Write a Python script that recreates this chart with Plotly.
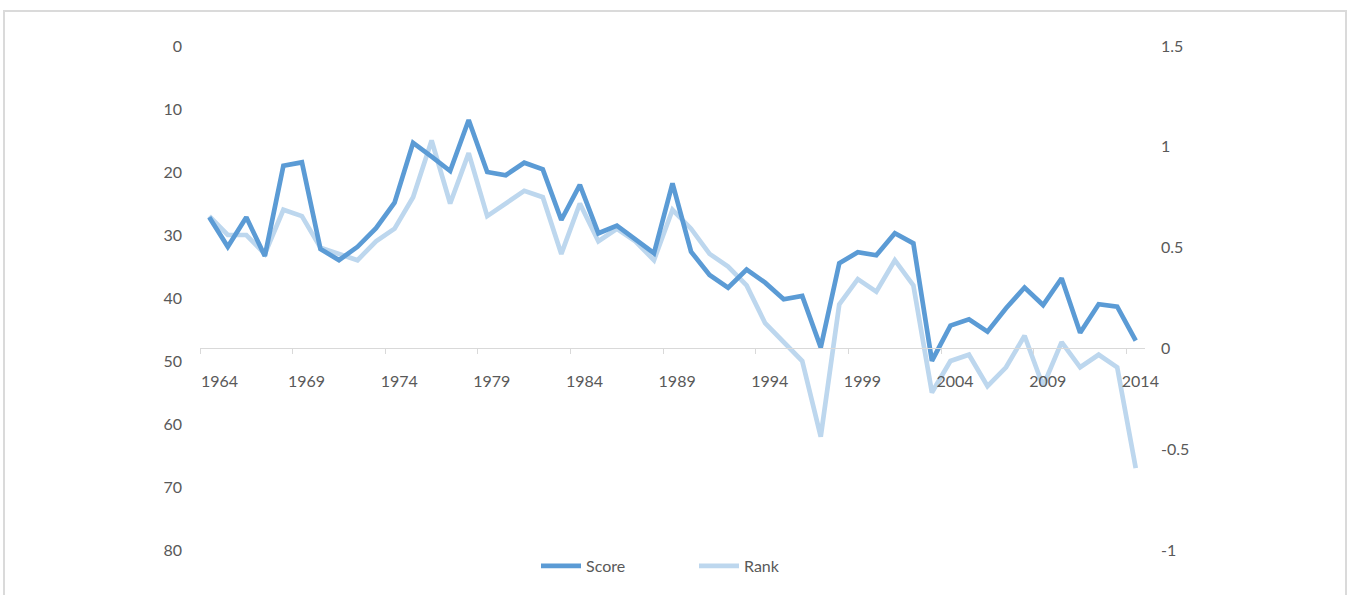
import plotly.graph_objects as go

years = list(range(1964, 2015))
score = [0.650, 0.504, 0.650, 0.458, 0.906, 0.923, 0.493, 0.438, 0.504, 0.596,
         0.723, 1.020, 0.951, 0.880, 1.133, 0.875, 0.859, 0.921, 0.888, 0.637,
         0.811, 0.571, 0.609, 0.538, 0.472, 0.819, 0.480, 0.364, 0.301, 0.391,
         0.326, 0.244, 0.260, 0.005, 0.422, 0.477, 0.462, 0.571, 0.521, -0.062,
         0.113, 0.144, 0.083, 0.199, 0.302, 0.215, 0.348, 0.078, 0.219, 0.207,
         0.038]
rank = [27, 30, 30, 33, 26, 27, 32, 33, 34, 31,
        29, 24, 15, 25, 17, 27, 25, 23, 24, 33,
        25, 31, 29, 31, 34, 26, 29, 33, 35, 38,
        44, 47, 50, 62, 41, 37, 39, 34, 38, 55,
        50, 49, 54, 51, 46, 54, 47, 51, 49, 51,
        67]

label_years = [1964, 1969, 1974, 1979, 1984, 1989, 1994, 1999, 2004, 2009, 2014]
left_ticks = [0, 10, 20, 30, 40, 50, 60, 70, 80]
right_ticks = [1.5, 1, 0.5, 0, -0.5, -1]
right_text = ["1.5", "1", "0.5", "0", "-0.5", "-1"]

DARK = "#5B9BD5"
LIGHT = "#BDD7EE"
TXT = "#595959"
FONT = "Lato"
FS = 16

fig = go.Figure()
fig.add_trace(go.Scatter(x=years, y=score, name="Score", mode="lines",
                         line=dict(color=DARK, width=4.7), yaxis="y2"))
fig.add_trace(go.Scatter(x=years, y=rank, name="Rank", mode="lines",
                         line=dict(color=LIGHT, width=4.7), yaxis="y"))

label_pos = [y + 0.25 for y in label_years]
label_pos[0] = 1964.55

fig.update_layout(
    width=1350, height=595,
    margin=dict(l=200, r=205, t=46, b=45, autoexpand=False),
    paper_bgcolor="white", plot_bgcolor="white",
    font=dict(family=FONT, size=FS, color=TXT),
    showlegend=True,
    legend=dict(orientation="h", x=(536 - 200) / 945, xanchor="left",
                yref="container", y=(595 - 549) / 595, yanchor="top",
                font=dict(size=FS, color=TXT), entrywidth=103, itemwidth=40,
                bgcolor="rgba(0,0,0,0)", traceorder="normal"),
    xaxis=dict(range=[1963.5, 2014.5], anchor="free", position=0.4,
               tickmode="array", tickvals=label_pos, ticktext=[str(y) for y in label_years],
               ticks="", showline=True, linecolor="#D9D9D9", linewidth=1,
               showgrid=False, zeroline=False, ticklabelstandoff=18,
               minor=dict(tickmode="array", tickvals=[1963.5 + 5 * k for k in range(11)],
                          ticks="outside", ticklen=5, tickcolor="#D9D9D9", tickwidth=1,
                          showgrid=False),
               tickfont=dict(size=FS, color=TXT)),
    yaxis=dict(range=[80, 0], tickmode="array", tickvals=left_ticks,
               showgrid=False, zeroline=False, showline=False, ticks="",
               ticklabelstandoff=17, tickfont=dict(size=FS, color=TXT)),
    yaxis2=dict(range=[-1, 1.5], overlaying="y", side="right", tickmode="array",
                tickvals=right_ticks, ticktext=right_text,
                showgrid=False, zeroline=False, showline=False, ticks="",
                ticklabelstandoff=15, tickfont=dict(size=FS, color=TXT)),
    shapes=[dict(type="rect", xref="paper", yref="paper",
                 x0=(4 - 200) / 945, x1=(1346 - 200) / 945,
                 y0=(550 - 620) / 504, y1=(550 - 11) / 504,
                 line=dict(color="#DADADA", width=2), fillcolor="rgba(0,0,0,0)",
                 layer="below")],
)

fig.write_html("out.html", config={"displayModeBar": False},
               post_script="document.body.style.margin='0';document.body.style.overflow='hidden';")
